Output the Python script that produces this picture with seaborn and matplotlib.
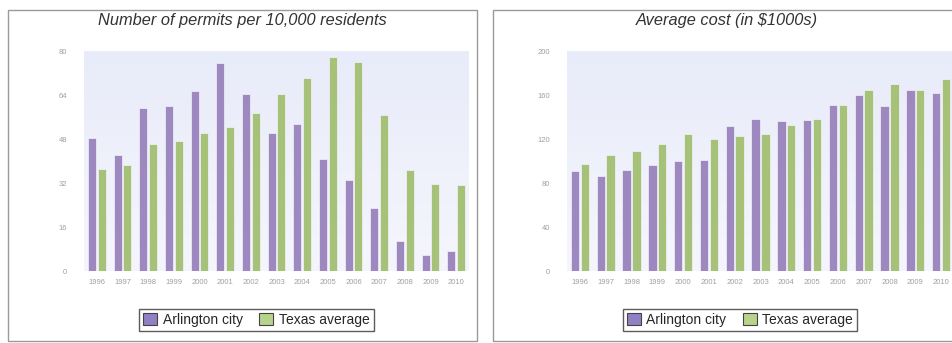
import numpy as np
import pandas as pd
import matplotlib
matplotlib.use("Agg")
import matplotlib.pyplot as plt
from matplotlib.patches import Rectangle, Patch
import seaborn as sns

years = [str(y) for y in range(1996, 2011)]
series = ["Arlington city", "Texas average"]

permits_arlington = [48.5, 42.3, 59.4, 59.9, 65.5, 75.8, 64.5, 50.2, 53.3, 40.9, 33.0, 23.0, 10.9, 5.7, 7.2]
permits_texas = [37.2, 38.4, 46.3, 47.3, 50.2, 52.4, 57.5, 64.3, 70.3, 77.8, 76.0, 56.6, 36.9, 31.5, 31.2]

cost_arlington = [90.9, 86.0, 91.5, 96.7, 99.7, 100.6, 131.5, 138.5, 136.4, 137.0, 150.6, 159.7, 149.7, 164.9, 161.8]
cost_texas = [97.0, 105.8, 109.0, 115.8, 124.9, 120.3, 122.5, 124.9, 133.1, 138.5, 150.6, 164.3, 169.7, 164.3, 174.9]

left_ticks = [0, 16, 32, 48, 64, 80]
right_ticks = [0, 40, 80, 120, 160, 200]

titles = ["Number of permits per 10,000 residents", "Average cost (in $1000s)"]

colors = ["#9c7fc9", "#a9cd6c"]
legend_colors = ["#9180c4", "#b8d48c"]


def long_df(a, b):
    return pd.DataFrame({
        "year": years * 2,
        "value": list(a) + list(b),
        "series": [series[0]] * len(years) + [series[1]] * len(years),
    })


sns.set_theme(style="white")
plt.rcParams["font.family"] = ["Liberation Sans", "DejaVu Sans"]

W, H = 952, 343
fig = plt.figure(figsize=(W / 100, H / 100), dpi=100)

def fx(px):
    return px / W

def fy(py):
    return 1 - py / H

# panel borders
for x0, x1 in [(8, 477), (493, 962)]:
    fig.patches.append(Rectangle((fx(x0), fy(341)), fx(x1 - x0), (341 - 10) / H,
                                 transform=fig.transFigure, fill=False,
                                 edgecolor="#9a9a9a", linewidth=1.0, zorder=0))

axes_specs = [
    (84, 469, permits_arlington, permits_texas, left_ticks, 80, 242.5),
    (567, 954, cost_arlington, cost_texas, right_ticks, 200, 727),
]

top_px, bot_px = 51, 271
grad = np.linspace(0, 1, 256).reshape(-1, 1)
c_top = np.array(matplotlib.colors.to_rgb("#e8ebf9"))
c_bot = np.array(matplotlib.colors.to_rgb("#f5f6fd"))
img = c_top[None, None, :] * (1 - grad[:, :, None]) + c_bot[None, None, :] * grad[:, :, None]

for i, (xl, xr, a, b, ticks, ymax, tcx) in enumerate(axes_specs):
    ax = fig.add_axes([fx(xl), fy(bot_px), fx(xr - xl), (bot_px - top_px) / H])
    ax.set_facecolor("none")
    ax.imshow(img, extent=[0, 1, 0, 1], transform=ax.transAxes, aspect="auto", zorder=0)
    df = long_df(a, b)
    sns.barplot(data=df, x="year", y="value", hue="series", palette=colors,
                width=0.76, gap=0.16, ax=ax, legend=False, zorder=2,
                edgecolor="#f4f2fa", linewidth=0.5)
    ax.set_xlim(-0.5, len(years) - 0.5)
    ax.set_ylim(0, ymax)
    ax.set_yticks(ticks)
    ax.set_yticklabels([str(t) for t in ticks])
    ax.set_xlabel("")
    ax.set_ylabel("")
    for s in ax.spines.values():
        s.set_visible(False)
    ax.tick_params(axis="y", length=0, pad=12, labelsize=5.5, labelcolor="#a0a0a0")
    ax.tick_params(axis="x", length=0, pad=6, labelsize=5.5, labelcolor="#a0a0a0")
    fig.text(fx(tcx), fy(21), titles[i], ha="center", va="center",
             fontsize=11.8, style="italic", color="#333333")
    handles = [Patch(facecolor=legend_colors[k], edgecolor="#444444", linewidth=0.8, label=series[k])
               for k in range(2)]
    lcx = 256.5 if i == 0 else 740
    leg = fig.legend(handles=handles, loc="center", bbox_to_anchor=(fx(lcx), fy(320)),
                     ncol=2, frameon=True, fancybox=False, fontsize=10,
                     handlelength=1.0, handleheight=1.0, handletextpad=0.4,
                     columnspacing=1.2, borderpad=0.3)
    leg.get_frame().set_edgecolor("#333333")
    leg.get_frame().set_linewidth(1.0)

fig.savefig("out.png", dpi=100)
